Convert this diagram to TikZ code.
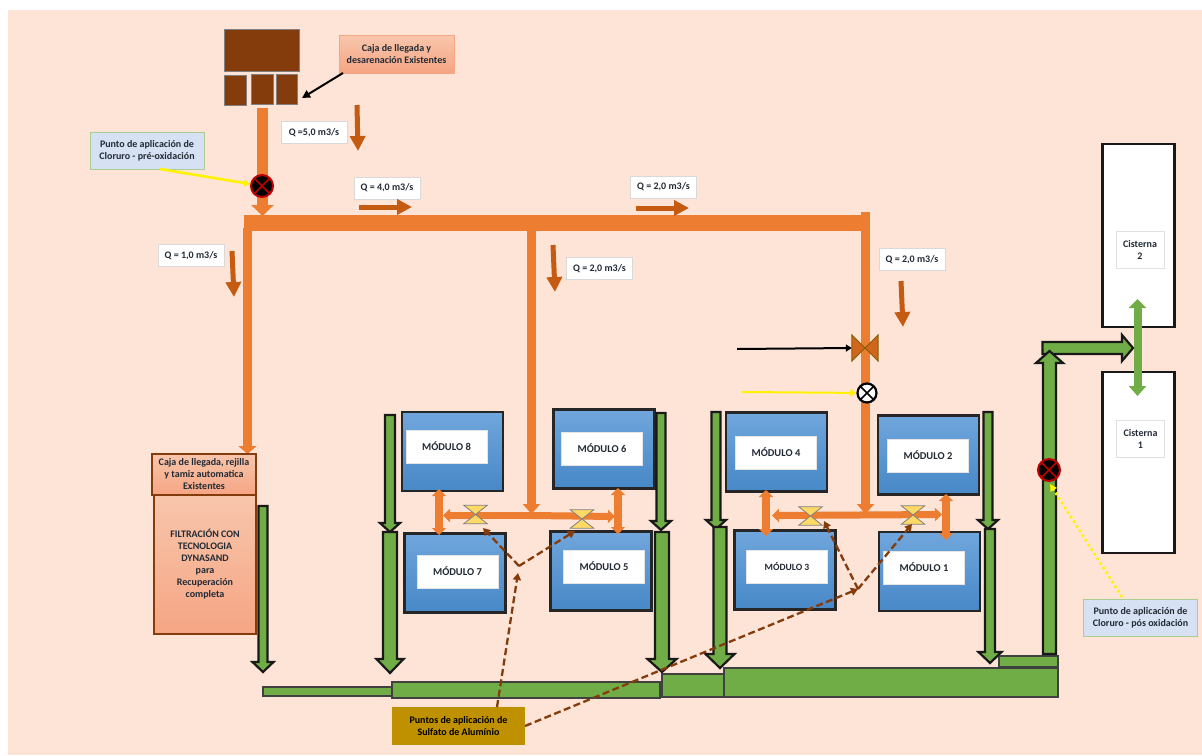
\documentclass[tikz,border=0pt]{standalone}
\usepackage{fontspec}
\setmainfont{Carlito}
\usetikzlibrary{arrows.meta}

\definecolor{fondo}{HTML}{FDE4D7}
\definecolor{ladrillo}{HTML}{843C0C}
\definecolor{tubo}{HTML}{ED7D31}
\definecolor{caudal}{HTML}{C55A11}
\definecolor{verde}{HTML}{70AD47}
\definecolor{azulclaro}{HTML}{D6E2F3}
\definecolor{letra}{HTML}{222A35}
\definecolor{oro}{HTML}{BF9000}
\definecolor{olivo}{HTML}{7F6000}
\definecolor{amarillo}{HTML}{FFD966}
\definecolor{F8C}{HTML}{F8C6AC}
\definecolor{F4A}{HTML}{F5A583}
\definecolor{AZ1}{HTML}{70A6DC}
\definecolor{AZ2}{HTML}{5A9BD8}
\definecolor{AZ3}{HTML}{4788C7}

\tikzset{
  texto/.style={font=\fontsize{10}{12}\selectfont\bfseries, text=letra, align=center, inner sep=0pt, outer sep=0pt},
  brick/.style={draw=gray, line width=0.8pt, fill=ladrillo},
  salmon/.style={texto, draw=ladrillo, line width=2pt, top color=F8C,bottom color=F4A},
  caudaltag/.style={texto, draw=black!15, line width=0.8pt, fill=white, minimum width=66pt, minimum height=22pt},
  aviso/.style={texto, draw=verde!60, line width=1pt, fill=azulclaro, minimum width=114pt, minimum height=37pt},
  modulebox/.style={draw=black!85, line width=2.2pt, top color=AZ1, middle color=AZ2, bottom color=AZ3, minimum width=101pt, minimum height=79pt, outer sep=0pt},
  modtag/.style={texto, draw=black!10, line width=0.6pt, fill=white, minimum width=81pt, minimum height=33pt, font=\fontsize{10.5}{12}\selectfont\bfseries},
  cisterna/.style={draw=black!90, line width=2.4pt, fill=white, minimum width=72pt, outer sep=0pt},
  cistag/.style={texto, draw=black!12, line width=0.7pt, fill=white, minimum width=48pt, minimum height=37pt},
  canal/.style={draw=black!75, line width=1.4pt, fill=verde},
  greenblock/.style={draw=black!90, line width=2.2pt, fill=verde, line join=miter},
  hourglass/.style={draw=black!50, line width=0.8pt, fill=amarillo},
  redvalve/.style={circle, draw=red!75!black, line width=2pt, fill=black, minimum size=22pt, inner sep=0pt,
    path picture={\draw[red!75!black, line width=1.6pt] (path picture bounding box.south west) -- (path picture bounding box.north east) (path picture bounding box.north west) -- (path picture bounding box.south east);}},
  whitevalve/.style={circle, draw=black, line width=2.2pt, fill=white, minimum size=19pt, inner sep=0pt,
    path picture={\draw[black, line width=1.6pt] (path picture bounding box.south west) -- (path picture bounding box.north east) (path picture bounding box.north west) -- (path picture bounding box.south east);}},
  bigpipe/.style={tubo, line width=#1},
  flowarrow/.style={caudal, line width=5pt, -{Triangle[width=15pt,length=15pt]}},
  sidepipe/.style={tubo, line width=7pt, -{Triangle[width=13pt,length=7pt]}},
  twoway/.style={tubo, line width=8pt, {Triangle[width=14pt,length=7pt]}-{Triangle[width=14pt,length=7pt]}},
  dosage/.style={ladrillo, line width=2.3pt, dash pattern=on 7pt off 3.5pt, -{Triangle[width=8pt,length=7pt]}}
}

% x, top, neck, tip, half shaft, half head
\newcommand{\downblock}[6]{
  \draw[greenblock] (#1-#5,#2) -- (#1+#5,#2) -- (#1+#5,#3) -- (#1+#6,#3) -- (#1,#4) -- (#1-#6,#3) -- (#1-#5,#3) -- cycle;
}
% name, x, y
\newcommand{\hourvalve}[3]{
  \node[minimum width=23pt, minimum height=18pt, inner sep=0pt] (#1) at (#2,#3) {};
  \draw[hourglass] (#1.north west) -- (#1.north east) -- (#1.south west) -- (#1.south east) -- cycle;
}

\begin{document}
\begin{tikzpicture}[x=1pt,y=-1pt]
    \fill[white] (0,0) rectangle (1202,755);
    \useasboundingbox (0,0) rectangle (1202,755);
    \fill[fondo] (8,10) rectangle (1202,755);

    % llegada
    \draw [brick] (224,29) rectangle (299,71);
    \draw [brick] (224,75) rectangle (246,105);
    \draw [brick] (251,74) rectangle (273,104);
    \draw [brick] (276,74) rectangle (297,104);
    \node[texto, draw=F4A, line width=1pt, top color=F8C, bottom color=F4A, minimum width=115pt, minimum height=38pt] (llegada) at (396.5,54) {Caja de llegada y\\desarenación Existentes};
    \coordinate (cajas) at (302,98);
    \draw[black, line width=2pt, -{Triangle[width=8pt,length=8pt]}] (llegada.south west) ++(4,0) -- (cajas);

    % tuberias
    \coordinate (entrada) at (262.5,108);
    \coordinate (entradafin) at (262.5,216);
    \coordinate (mainL) at (244,223);
    \coordinate (mainR) at (861,223);
    \coordinate (ramaA) at (247.5,228);
    \coordinate (ramaAfin) at (247.5,454);
    \coordinate (ramaB) at (531.5,224);
    \coordinate (ramaBfin) at (531.5,514);
    \coordinate (ramaC) at (865.5,212);
    \coordinate (ramaCfin) at (865.5,514);
    \draw[tubo, line width=11pt, -{Triangle[width=22pt,length=11pt]}] (entrada) -- (entradafin);
    \draw[bigpipe=16pt] (mainL) -- (mainR);
    \draw[tubo, line width=9pt, -{Triangle[width=18pt,length=8pt]}] (ramaA) -- (ramaAfin);
    \draw[tubo, line width=9pt, -{Triangle[width=17pt,length=10pt]}] (ramaB) -- (ramaBfin);
    \draw[tubo, line width=9pt, -{Triangle[width=17pt,length=10pt]}] (ramaC) -- (ramaCfin);

    % caudales
    \node[caudaltag] (q5) at (314,132.5) {Q =5,0  m3/s};
    \node[caudaltag] (q4) at (387,188) {Q = 4,0 m3/s};
    \node[caudaltag] (q2a) at (663.5,187) {Q = 2,0 m3/s};
    \node[caudaltag] (q1) at (191,255.5) {Q = 1,0 m3/s};
    \node[caudaltag] (q2b) at (599.5,268.5) {Q = 2,0 m3/s};
    \node[caudaltag] (q2c) at (912,259.5) {Q = 2,0 m3/s};
    \draw[flowarrow] (357,105) -- (358,151);
    \draw[flowarrow] (359,207) -- (412,207);
    \draw[flowarrow] (636,208) -- (689,208);
    \draw[flowarrow] (232,251) -- (234,297);
    \draw[flowarrow] (553,245) -- (555,292);
    \draw[flowarrow] (901,281) -- (903,327);

    % cloro
    \node[aviso] (preox) at (147,150.5) {Punto de aplicación de\\Cloruro - pré-oxidación};
    \node[redvalve] (valvepre) at (262,186) {};
    \coordinate (preoxsal) at (160,169);
    \draw[yellow, line width=2.6pt, -{Triangle[width=7pt,length=6pt]}] (preoxsal) -- (valvepre);

    % valvula de entrada y cloro
    \node[minimum width=26pt, minimum height=26pt, inner sep=0pt] (valvec) at (865,348) {};
    \draw[draw=olivo, line width=1pt, fill=caudal!70!tubo] (valvec.north west) -- (valvec.south west) -- (valvec.north east) -- (valvec.south east) -- cycle;
    \coordinate (negra) at (737,349);
    \draw[black, line width=2pt, -{Triangle[width=7pt,length=6pt]}] (negra) -- (valvec.west);
    \node[whitevalve] (valveb) at (867,393) {};
    \coordinate (amarilla) at (742,392);
    \draw[yellow, line width=2pt, -{Triangle[width=7pt,length=6pt]}] (amarilla) -- (valveb);

    % modulos
    \node[modulebox] (mod8) at (452.5,451.5) {};
    \node[modtag] (tag8) at (446.5,446.5) {MÓDULO 8};
    \node[modulebox] (mod6) at (604,449) {};
    \node[modtag] (tag6) at (602,448.5) {MÓDULO 6};
    \node[modulebox] (mod7) at (455,573) {};
    \node[modtag] (tag7) at (457.5,571.5) {MÓDULO 7};
    \node[modulebox] (mod5) at (601,571) {};
    \node[modtag] (tag5) at (604,566.5) {MÓDULO 5};
    \node[modulebox] (mod4) at (776.5,452) {};
    \node[modtag] (tag4) at (776,452.5) {MÓDULO 4};
    \node[modulebox] (mod2) at (928.5,455) {};
    \node[modtag] (tag2) at (928,455.5) {MÓDULO 2};
    \node[modulebox] (mod3) at (785,570) {};
    \node[modtag, font=\fontsize{9.6}{12}\selectfont\bfseries] (tag3) at (787,566.5) {MÓDULO 3};
    \node[modulebox] (mod1) at (929.5,571.5) {};
    \node[modtag] (tag1) at (924,567.5) {MÓDULO 1};

    % ramales entre modulos
    \coordinate (juntaL) at (531,515.5);
    \coordinate (juntaR) at (859,515);
    \draw[sidepipe] (juntaL) -- (443,515.5);
    \draw[sidepipe] (juntaL) -- (615,516.5);
    \draw[sidepipe] (juntaR) -- (772,515.5);
    \draw[sidepipe] (juntaR) -- (942,514.5);
    \draw[twoway] (439,489) -- (439,535);
    \draw[twoway] (618,488) -- (618,534);
    \draw[twoway] (766,490) -- (766,536);
    \draw[twoway] (946,494) -- (946,540);
    \hourvalve{valve8}{475.5}{514.5}
    \hourvalve{valve6}{582}{519}
    \hourvalve{valve4}{810.5}{516}
    \hourvalve{valve2}{913}{515}

    % canales
    \draw[canal] (263,687) rectangle (392,696);
    \draw[canal] (392,682) rectangle (660,698);
    \draw[canal] (662,674) rectangle (724,697);
    \draw[canal] (999,656) rectangle (1058,667);
    \draw[canal, line width=2pt] (724,668) rectangle (1058,697);

    % descargas
    \downblock{390}{415}{523}{532}{5}{10}
    \downblock{390}{532}{659}{673}{7}{13.5}
    \downblock{661}{413}{521}{530}{4.5}{10}
    \downblock{662}{532}{659}{672}{7}{14.5}
    \downblock{716}{412}{520}{529}{4.5}{10}
    \downblock{720}{527}{654}{668}{6.5}{14.5}
    \downblock{988}{412}{520}{529}{4.5}{10}
    \downblock{990}{529}{652}{663}{5}{11.5}
    \downblock{263}{506}{662}{672}{4.5}{10.5}

    % salida a cisternas
    \draw[greenblock] (1042.5,342) -- (1122,342) -- (1122,335) -- (1133,348) -- (1122,361) -- (1122,354) -- (1042.5,354) -- cycle;
    \draw[greenblock] (1043,654) -- (1043,363) -- (1036,363) -- (1049.5,351) -- (1063,363) -- (1056,363) -- (1056,654) -- cycle;

    \node[cisterna, minimum height=183pt] (cis2) at (1138.5,235.5) {};
    \node[cisterna, minimum height=181pt] (cis1) at (1138.5,462.5) {};
    \node[cistag] (tagc2) at (1140,249.5) {Cisterna\\2};
    \node[cistag] (tagc1) at (1140.5,438.5) {Cisterna\\1};
    \coordinate (arribac) at (1137.5,299);
    \coordinate (abajoc) at (1137.5,396);
    \draw[verde, line width=8pt, {Triangle[width=17pt,length=9pt]}-{Triangle[width=17pt,length=10pt]}] (arribac) -- (abajoc);

    \node[redvalve] (valvepos) at (1049,470) {};
    \node[aviso] (posox) at (1140.5,617.5) {Punto de aplicación de\\Cloruro - pós oxidación};
    \coordinate (posoxsal) at (1122,597);
    \coordinate (posoxfin) at (1050,484);
    \draw[yellow, line width=2.6pt, dash pattern=on 2.5pt off 3pt, -{Triangle[width=7pt,length=7pt]}] (posoxsal) -- (posoxfin);

    % filtracion
    \node[salmon, minimum width=102pt, minimum height=139pt] (filtro) at (205,564.5) {FILTRACIÓN CON\\TECNOLOGIA\\DYNASAND\\para\\Recuperación\\completa};
    \node[salmon, minimum width=104pt, minimum height=41pt] (rejilla) at (204,474.5) {Caja de llegada, rejilla\\y  tamiz automatica\\Existentes};

    % sulfato
    \node[texto, fill=oro, minimum width=133pt, minimum height=38pt, text=black] (sulfato) at (458.5,726) {Puntos de aplicación de\\Sulfato de Alumínio};
    \coordinate (hubA) at (519,566);
    \coordinate (hubB) at (858,589);
    \coordinate (sulfatotop) at (497,707);
    \draw[dosage] (sulfatotop) -- (518,573);
    \draw[dosage] (hubA) -- (483,528);
    \draw[dosage] (hubA) -- (575,531);
    \draw[dosage] (sulfato.east) -- (hubB);
    \draw[dosage] (hubB) -- (824,521);
    \draw[dosage] (hubB) -- (912,524);
\end{tikzpicture}
\end{document}
